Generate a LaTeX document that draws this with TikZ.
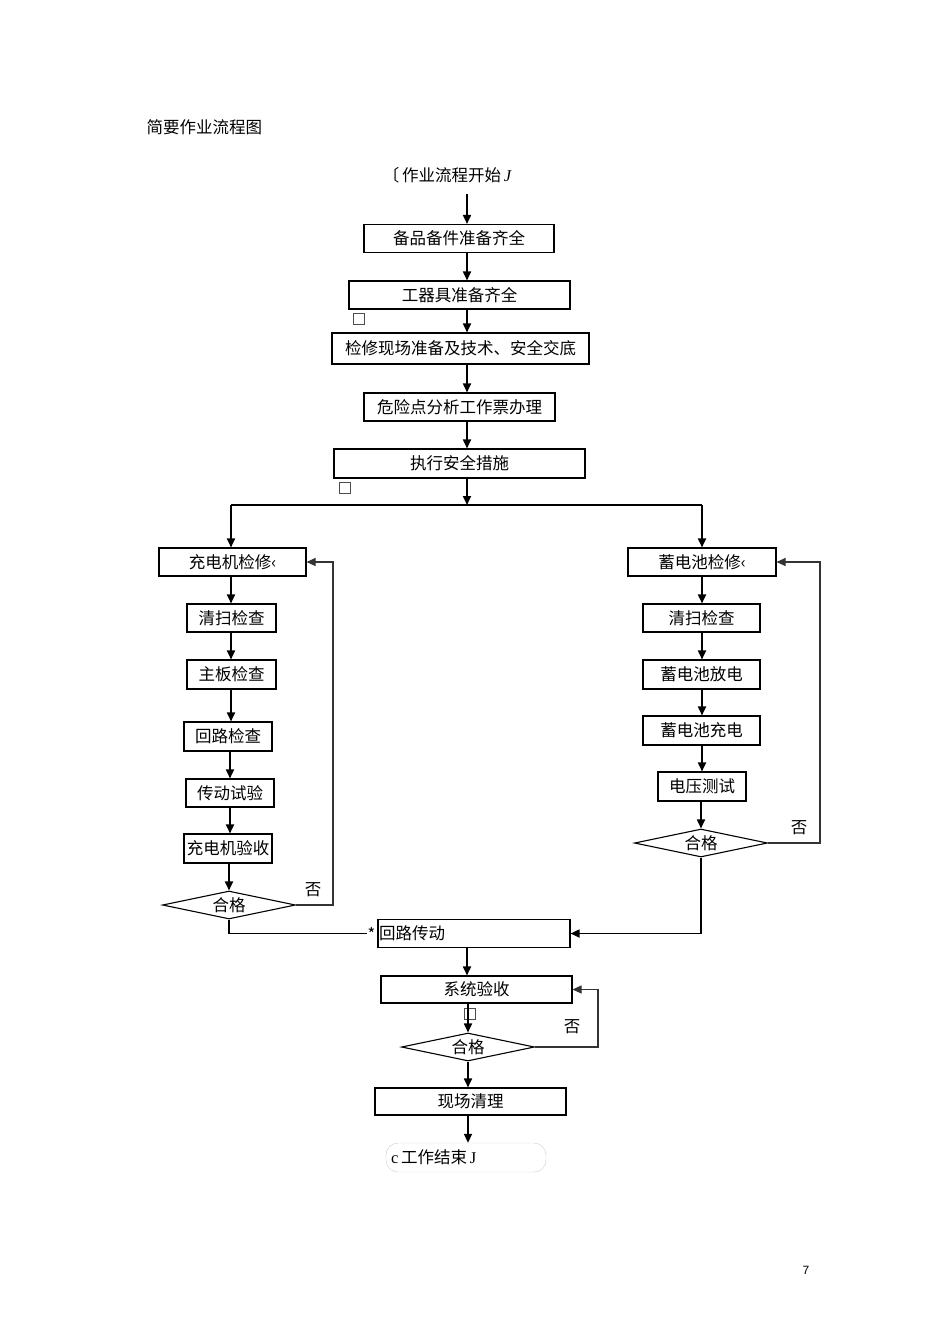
\documentclass[tikz,border=0pt]{standalone}
\usepackage{fontspec}
\setmainfont{Noto Sans CJK SC}
\newfontfamily\latinfont{Liberation Serif}
\newfontfamily\pagefont{Liberation Sans}
\usetikzlibrary{positioning,arrows.meta,shapes.geometric}

\begin{document}
\begin{tikzpicture}[x=1pt,y=-1pt,>={Triangle[length=9pt,width=8pt]},
  font=\fontsize{16.5}{18}\selectfont,
  stepbox/.style={draw,line width=1.1pt,minimum height=28,inner sep=0},
  check/.style={draw,line width=1.1pt,shape=diamond,shape aspect=5,minimum width=133,minimum height=28,inner sep=0},
  flow/.style={->,line width=1.7pt},
  back/.style={->,line width=1.1pt,draw=black!80},
  tick/.style={draw=black!70,line width=0.6pt,minimum size=11,inner sep=0}]
\useasboundingbox (0,0) rectangle (950,1344);
\coordinate (mid) at (467,0);
\coordinate (lc) at (231,0);
\coordinate (rc) at (702,0);

\node[anchor=west] (title) at (143,127) {简要作业流程图};
\node (start) at (447,175) {〔\,作业流程开始\,{\latinfont\itshape J}};

% preparation steps
\node[stepbox,minimum width=190] (b1) at (459,238.5) {备品备件准备齐全};
\node[stepbox,minimum width=221] (b2) at (459.5,295) {工器具准备齐全};
\node[tick] (sq1) at (358.5,319) {};
\node[stepbox,minimum width=257,minimum height=31] (b3) at (460.5,348.5) {检修现场准备及技术、安全交底};
\node[stepbox,minimum width=191] (b4) at (459.5,407) {危险点分析工作票办理};
\node[stepbox,minimum width=251,minimum height=29] (b5) at (459.5,463.5) {执行安全措施};
\node[tick] (sq2) at (344.5,487.5) {};
\coordinate (split) at (467,505);

\draw[flow,shorten <=8pt] (start.south -| mid) -- (b1.north -| mid);
\draw[flow] (b1.south -| mid) -- (b2.north -| mid);
\draw[flow] (b2.south -| mid) -- (b3.north -| mid);
\draw[flow] (b3.south -| mid) -- (b4.north -| mid);
\draw[flow] (b4.south -| mid) -- (b5.north -| mid);
\draw[flow] (b5.south -| mid) -- (split);

% charger branch
\node[stepbox,minimum width=147] (l1) at (232.5,562) {充电机检修‹};
\node[stepbox,minimum width=89] (l2) at (231.5,618) {清扫检查};
\node[stepbox,minimum width=89,minimum height=29] (l3) at (231.5,674.5) {主板检查};
\node[stepbox,minimum width=88,minimum height=29] (l4) at (228,736.5) {回路检查};
\node[stepbox,minimum width=88] (l5) at (230,793) {传动试验};
\node[stepbox,minimum width=88,minimum height=29] (l6) at (228,848.5) {充电机验收};
\node[check] (dl) at (229,905) {合格};
\coordinate (lback) at (333,905);
\node (lno) at (313,890) {否};

% battery branch
\node[stepbox,minimum width=148] (r1) at (702,562) {蓄电池检修‹};
\node[stepbox,minimum width=117] (r2) at (701.5,618) {清扫检查};
\node[stepbox,minimum width=117,minimum height=29] (r3) at (701.5,674.5) {蓄电池放电};
\node[stepbox,minimum width=117,minimum height=29] (r4) at (701.5,730.5) {蓄电池充电};
\node[stepbox,minimum width=88,minimum height=29] (r5) at (702,786.5) {电压测试};
\node[check] (dr) at (701,843) {合格};
\coordinate (rback) at (820,843);
\node (rno) at (799,828) {否};

\draw[line width=1.7pt] (split -| lc) -- (split -| rc);
\draw[flow] (split -| lc) -- (l1.north -| lc);
\draw[flow] (split -| rc) -- (r1.north -| rc);
\draw[flow] (l1.south -| lc) -- (l2.north -| lc);
\draw[flow] (l2.south -| lc) -- (l3.north -| lc);
\draw[flow] (l3.south -| lc) -- (l4.north -| lc);
\draw[flow] (l4.south -| l5) -- (l5.north);
\draw[flow] (l5.south) -- (l6.north -| l5);
\draw[flow] (l6.south -| dl) -- (dl.north);
\draw[back] (dl.east) -- (lback) |- (l1.east);
\draw[flow] (r1.south -| rc) -- (r2.north -| rc);
\draw[flow] (r2.south -| rc) -- (r3.north -| rc);
\draw[flow] (r3.south -| rc) -- (r4.north -| rc);
\draw[flow] (r4.south -| rc) -- (r5.north -| rc);
\draw[flow] (r5.south -| dr) -- (dr.north);
\draw[back] (dr.east) -- (rback) |- (r1.east);

% joint steps
\node[stepbox,minimum width=192,text width=190,align=left,inner xsep=1] (hl) at (474,933.5) {回路传动};
\node[inner sep=0] (star) at ([xshift=-6]hl.west) {*};
\node[stepbox,minimum width=191,minimum height=27] (xt) at (476.5,989.5) {系统验收};
\node[tick] (sq3) at (470,1013.5) {};
\node[check] (dc) at (468,1047) {合格};
\coordinate (cback) at (598,1047);
\node (cno) at (572,1027) {否};
\node[stepbox,minimum width=191,minimum height=27] (qc) at (470.5,1101.5) {现场清理};
\node[draw=black!20,rounded corners=12,minimum width=160,minimum height=29,text width=150,align=left,inner xsep=5] (end) at (466,1157.5) {{\latinfont c}\,工作结束\,{\latinfont J}};

\draw[line width=1.5pt] (dl.south) |- (star.west);
\draw[flow] (dr.south) |- (hl.east);
\draw[flow] (hl.south -| mid) -- (xt.north -| mid);
\draw[flow] (xt.south -| dc) -- (dc.north);
\draw[back] (dc.east) -- (cback) |- (xt.east);
\draw[flow] (dc.south) -- (qc.north -| dc);
\draw[flow] (qc.south -| dc) -- (end.north -| dc);

\node (page) at (806,1270) {\pagefont\fontsize{12}{14}\selectfont 7};
\end{tikzpicture}
\end{document}
